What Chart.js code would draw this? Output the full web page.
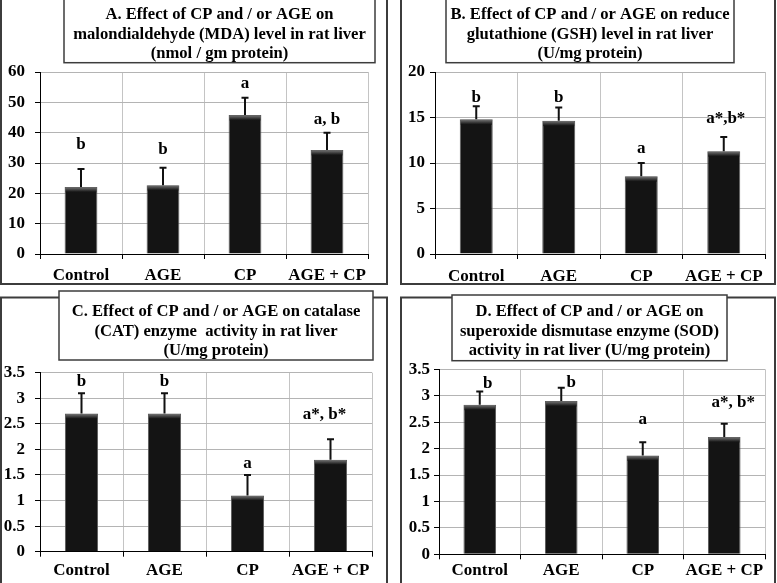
<!DOCTYPE html>
<html><head><meta charset="utf-8">
<script src="https://cdn.jsdelivr.net/npm/chart.js@4.4.0/dist/chart.umd.min.js"></script>
<style>
html,body{margin:0;padding:0;background:#fff;}
body{width:777px;height:583px;position:relative;overflow:hidden;}
canvas{position:absolute;display:block;}
</style></head><body>
<canvas id="cA" width="390" height="290" style="left:0;top:0"></canvas>
<canvas id="cB" width="387" height="290" style="left:390px;top:0"></canvas>
<canvas id="cC" width="390" height="293" style="left:0;top:290px"></canvas>
<canvas id="cD" width="387" height="293" style="left:390px;top:290px"></canvas>
<script>
// ---------- data ----------
const categories = ['Control', 'AGE', 'CP', 'AGE + CP'];

const mdaMean = [22.1, 22.7, 45.8, 34.3];
const mdaErr = [5.9, 5.7, 5.7, 5.7];
const mdaLetters = ['b', 'b', 'a', 'a, b'];
const mdaTitle = ['A. Effect of CP and / or AGE on', 'malondialdehyde (MDA) level in rat liver', '(nmol / gm protein)'];

const gshMean = [14.8, 14.65, 8.55, 11.3];
const gshErr = [1.45, 1.45, 1.45, 1.55];
const gshLetters = ['b', 'b', 'a', 'a*,b*'];
const gshTitle = ['B. Effect of CP and / or AGE on reduce', 'glutathione (GSH) level in rat liver', '(U/mg protein)'];

const catMean = [2.7, 2.7, 1.1, 1.8];
const catErr = [0.4, 0.4, 0.4, 0.4];
const catLetters = ['b', 'b', 'a', 'a*, b*'];
const catTitle = ['C. Effect of CP and / or AGE on catalase', '(CAT) enzyme  activity in rat liver', '(U/mg protein)'];

const sodMean = [2.83, 2.9, 1.87, 2.22];
const sodErr = [0.25, 0.25, 0.25, 0.25];
const sodLetters = ['b', 'b', 'a', 'a*, b*'];
const sodTitle = ['D. Effect of CP and / or AGE on', 'superoxide dismutase enzyme (SOD)', 'activity in rat liver (U/mg protein)'];

const mdaAxis = {max: 60, step: 10};
const gshAxis = {max: 20, step: 5};
const catAxis = {max: 3.5, step: 0.5};
const sodAxis = {max: 3.5, step: 0.5};

// ---------- drawing helpers ----------
const FONT = '"Liberation Serif", "Times New Roman", serif';

const deco = {
  id: 'deco',
  beforeDraw(chart, args, o) {
    const ctx = chart.ctx;
    ctx.save();
    ctx.fillStyle = '#fff';
    ctx.fillRect(0, 0, chart.width, chart.height);
    ctx.strokeStyle = '#3c3c3c';
    ctx.lineWidth = 2;
    const b = o.border;
    ctx.strokeRect(b[0], b[1], b[2] - b[0], b[3] - b[1]);
    ctx.restore();
  },
  afterDatasetsDraw(chart, args, o) {
    const ctx = chart.ctx;
    const meta = chart.getDatasetMeta(0);
    const ys = chart.scales.y;
    const ds = chart.data.datasets[0];
    ctx.save();
    meta.data.forEach((el, i) => {
      const w = el.width;
      const g = ctx.createLinearGradient(0, el.y, 0, el.y + 5);
      g.addColorStop(0, '#7a7a7a');
      g.addColorStop(1, '#151515');
      ctx.fillStyle = g;
      ctx.fillRect(el.x - w / 2 + 1, el.y + 0.5, w - 2, 5);
      const yTop = ys.getPixelForValue(ds.data[i] + o.errors[i]);
      ctx.strokeStyle = '#111';
      ctx.lineWidth = 2;
      ctx.beginPath();
      ctx.moveTo(el.x, el.y);
      ctx.lineTo(el.x, yTop);
      ctx.moveTo(el.x - 3.5, yTop);
      ctx.lineTo(el.x + 3.5, yTop);
      ctx.stroke();
      ctx.fillStyle = '#000';
      ctx.font = 'bold 17px ' + FONT;
      ctx.textAlign = 'center';
      ctx.textBaseline = 'alphabetic';
      ctx.fillText(o.letters[i], el.x + o.letterDx[i], yTop - o.letterGap[i]);
    });
    ctx.restore();
  },
  afterDraw(chart, args, o) {
    const ctx = chart.ctx;
    const t = o.titleBox;
    ctx.save();
    ctx.fillStyle = '#fff';
    ctx.fillRect(t[0], t[1], t[2] - t[0], t[3] - t[1]);
    ctx.strokeStyle = '#3c3c3c';
    ctx.lineWidth = 1.5;
    ctx.strokeRect(t[0], t[1], t[2] - t[0], t[3] - t[1]);
    ctx.fillStyle = '#000';
    ctx.font = 'bold 16.6px ' + FONT;
    ctx.textAlign = 'center';
    ctx.textBaseline = 'middle';
    const cx = (t[0] + t[2]) / 2;
    o.title.forEach((line, i) => ctx.fillText(line, cx, o.lineY[i]));
    ctx.restore();
  }
};

function makeChart(id, mean, err, letters, title, axis, g) {
  const canvas = document.getElementById(id);
  const W = canvas.width, H = canvas.height;
  return new Chart(canvas, {
    type: 'bar',
    data: {
      labels: categories,
      datasets: [{
        data: mean,
        backgroundColor: '#141414',
        borderColor: '#5a5a5a',
        borderWidth: 1,
        barPercentage: 0.4,
        categoryPercentage: 1
      }]
    },
    plugins: [deco],
    options: {
      responsive: false,
      animation: false,
      devicePixelRatio: 1,
      layout: {padding: {left: 0, top: g.area[1], right: W - g.area[2], bottom: 0}},
      plugins: {
        legend: {display: false},
        tooltip: {enabled: false},
        title: {display: false},
        deco: {
          border: g.border, titleBox: g.titleBox, title: title, lineY: g.lineY,
          errors: err, letters: letters, letterGap: g.letterGap, letterDx: g.letterDx
        }
      },
      scales: {
        x: {
          afterFit: s => { s.height = H - g.area[3]; },
          grid: {display: true, offset: true, color: '#c4c4c4', tickColor: '#000', tickLength: 5, drawOnChartArea: true},
          border: {display: true, color: '#000', width: 1},
          ticks: {color: '#000', padding: g.xPad, maxRotation: 0, minRotation: 0, autoSkip: false,
                  font: {family: FONT, size: 17, weight: 'bold'}}
        },
        y: {
          min: 0, max: axis.max,
          afterFit: s => { s.width = g.area[0]; },
          grid: {color: '#b4b4b4', tickColor: '#000', tickLength: 5},
          border: {display: true, color: '#000', width: 1},
          ticks: {stepSize: axis.step, color: '#000', padding: g.yPad, callback: v => String(v),
                  font: {family: FONT, size: 17, weight: 'bold'}}
        }
      }
    }
  });
}

makeChart('cA', mdaMean, mdaErr, mdaLetters, mdaTitle, mdaAxis, {
  area: [40, 72, 368, 254], border: [1, -5, 387, 284], titleBox: [64, -5, 375, 62.7],
  lineY: [15, 34.5, 54], letterGap: [20, 14, 10, 9], letterDx: [0, 0, 0, 0], xPad: 6, yPad: 10
});
makeChart('cB', gshMean, gshErr, gshLetters, gshTitle, gshAxis, {
  area: [45, 72, 375, 254], border: [11, -5, 385, 284], titleBox: [56, -5, 344, 62.7],
  lineY: [15, 34.5, 54], letterGap: [4, 5, 10, 14], letterDx: [0, 0, 0, 2], xPad: 7, yPad: 5
});
makeChart('cC', catMean, catErr, catLetters, catTitle, catAxis, {
  area: [40, 82.7, 372, 261.7], border: [1, 7.5, 387, 300], titleBox: [59, 1, 373, 70],
  lineY: [22, 41.7, 61], letterGap: [7, 7, 7, 20], letterDx: [0, 0, 0, -6], xPad: 4, yPad: 10
});
makeChart('cD', sodMean, sodErr, sodLetters, sodTitle, sodAxis, {
  area: [49, 79.3, 375, 264.3], border: [11, 7.5, 385, 300], titleBox: [62, 5, 337, 70.7],
  lineY: [22, 41.7, 61], letterGap: [4, 1, 18, 17], letterDx: [8, 10, 0, 9], xPad: 1, yPad: 4
});
</script>
</body></html>
